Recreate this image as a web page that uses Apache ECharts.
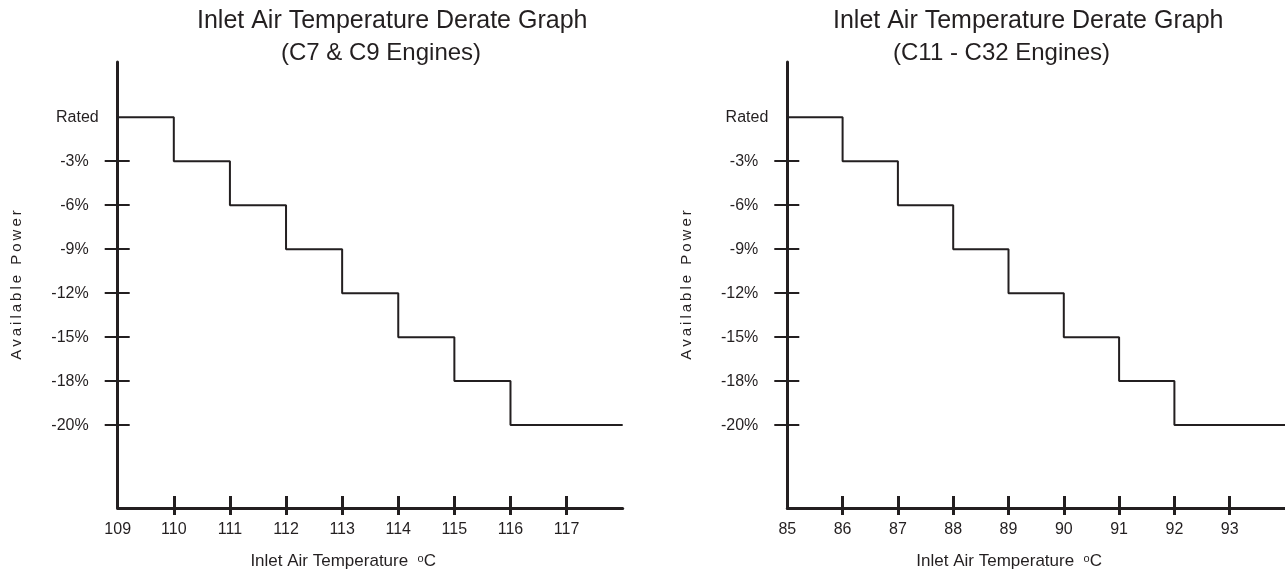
<!DOCTYPE html>
<html>
<head>
<meta charset="utf-8">
<title>Inlet Air Temperature Derate Graph</title>
<script src="https://cdn.jsdelivr.net/npm/echarts@6/dist/echarts.min.js"></script>
<style>
  html, body { margin: 0; padding: 0; background: #ffffff; }
  #chart { width: 1285px; height: 575px; }
</style>
</head>
<body>
<div id="chart"></div>
<script>
// Available power levels, top to bottom of the vertical axis (evenly spaced steps)
const powerLevels = ['Rated', '-3%', '-6%', '-9%', '-12%', '-15%', '-18%', '-20%'];

// C7 & C9 engines: temperature where each step starts, and the power available from there
const c7Temps  = [109, 110, 111, 112, 113, 114, 115, 116, 118];
const c7Derate = ['Rated', '-3%', '-6%', '-9%', '-12%', '-15%', '-18%', '-20%', '-20%'];
const c7TickTemps  = [110, 111, 112, 113, 114, 115, 116, 117];
const c7LabelTemps = [109, 110, 111, 112, 113, 114, 115, 116, 117];

// C11 - C32 engines
const c11Temps  = [85, 86, 87, 88, 89, 90, 91, 92, 94];
const c11Derate = ['Rated', '-3%', '-6%', '-9%', '-12%', '-15%', '-18%', '-20%', '-20%'];
const c11TickTemps  = [86, 87, 88, 89, 90, 91, 92, 93];
const c11LabelTemps = [85, 86, 87, 88, 89, 90, 91, 92, 93];

const INK = '#231f20';
const FONT = 'Liberation Sans';

// level ticks sit on every level except "Rated"
const levelTickIdx  = powerLevels.map((_, i) => i).filter(i => i > 0);
const levelLabelIdx = powerLevels.map((_, i) => i);

const SPACED_NAME = 'A\u2009v\u2009a\u2009i\u2009l\u2009a\u2009b\u2009l\u2009e\u2009 \u2009P\u2009o\u2009w\u2009e\u2009r';

function panel(gridIndex, grid, temps, derate, tickTemps, labelTemps, tMin, tMax) {
  const xMain = {
    gridIndex, type: 'value', position: 'bottom', min: tMin, max: tMax,
    axisLine: { show: true, onZero: false, lineStyle: { color: INK, width: 3 } },
    axisTick: { show: true, inside: true, length: 12, customValues: tickTemps,
                lineStyle: { color: INK, width: 3 } },
    axisLabel: { customValues: labelTemps, margin: 14, fontSize: 16, color: INK, fontFamily: FONT },
    splitLine: { show: false },
    name: '{t|Inlet Air Temperature  }{d|o}{t|C}',
    nameLocation: 'middle', nameGap: 45,
    nameTextStyle: {
      padding: [0, 54, 0, 0],
      rich: {
        t: { fontSize: 17, color: INK, fontFamily: FONT },
        d: { fontSize: 11, color: INK, fontFamily: FONT, verticalAlign: 'top' }
      }
    }
  };
  const xOuter = {
    gridIndex, type: 'value', position: 'bottom', min: tMin, max: tMax,
    axisLine: { show: false, onZero: false },
    axisTick: { show: true, inside: false, length: 7, customValues: tickTemps,
                lineStyle: { color: INK, width: 3 } },
    axisLabel: { show: false },
    splitLine: { show: false }
  };
  const yMain = {
    gridIndex, type: 'value', position: 'left', inverse: true, min: -1.2565, max: 8.885,
    axisLine: { show: true, onZero: false, lineStyle: { color: INK, width: 3 } },
    axisTick: { show: true, inside: true, length: 12, customValues: levelTickIdx,
                lineStyle: { color: INK, width: 2 } },
    axisLabel: {
      customValues: levelLabelIdx, margin: 19, fontSize: 16, color: INK, fontFamily: FONT,
      formatter: v => {
        const lab = powerLevels[Math.round(v)];
        return lab === 'Rated' ? lab : '{p|' + lab + '}';
      },
      rich: { p: { padding: [0, 10, 0, 0], fontSize: 16, color: INK, fontFamily: FONT } }
    },
    splitLine: { show: false },
    name: SPACED_NAME, nameLocation: 'middle', nameRotate: 90, nameGap: 93,
    nameTextStyle: { fontSize: 15, color: INK, fontFamily: FONT }
  };
  const yOuter = {
    gridIndex, type: 'value', position: 'left', inverse: true, min: -1.2565, max: 8.885,
    axisLine: { show: false, onZero: false },
    axisTick: { show: true, inside: false, length: 13, customValues: levelTickIdx,
                lineStyle: { color: INK, width: 2 } },
    axisLabel: { show: false },
    splitLine: { show: false }
  };
  const series = {
    type: 'line', xAxisIndex: gridIndex * 2, yAxisIndex: gridIndex * 2,
    step: 'end', symbol: 'none', silent: true,
    lineStyle: { color: INK, width: 2 },
    data: temps.map((t, i) => [t, powerLevels.indexOf(derate[i])])
  };
  return { grid, x: [xMain, xOuter], y: [yMain, yOuter], series };
}

const left  = panel(0, { left: 117.7, top: 62, width: 505, height: 452 },
                    c7Temps, c7Derate, c7TickTemps, c7LabelTemps, 109, 118);
const right = panel(1, { left: 787.3, top: 62, width: 505, height: 452 },
                    c11Temps, c11Derate, c11TickTemps, c11LabelTemps, 85, 94);

const titleStyle = (size) => ({ fontSize: size, fontWeight: 'normal', color: INK, fontFamily: FONT });

const option = {
  animation: false,
  backgroundColor: '#ffffff',
  title: [
    { text: 'Inlet Air Temperature Derate Graph', left: 197, top: 9, padding: 0, textStyle: titleStyle(25) },
    { text: '(C7 & C9 Engines)', left: 281, top: 41, padding: 0, textStyle: titleStyle(24) },
    { text: 'Inlet Air Temperature Derate Graph', left: 833, top: 9, padding: 0, textStyle: titleStyle(25) },
    { text: '(C11 - C32 Engines)', left: 893, top: 41, padding: 0, textStyle: titleStyle(24) }
  ],
  grid: [left.grid, right.grid],
  xAxis: [...left.x, ...right.x],
  yAxis: [...left.y, ...right.y],
  series: [left.series, right.series]
};

const chart = echarts.init(document.getElementById('chart'), null, { renderer: 'canvas' });
chart.setOption(option);
</script>
</body>
</html>
